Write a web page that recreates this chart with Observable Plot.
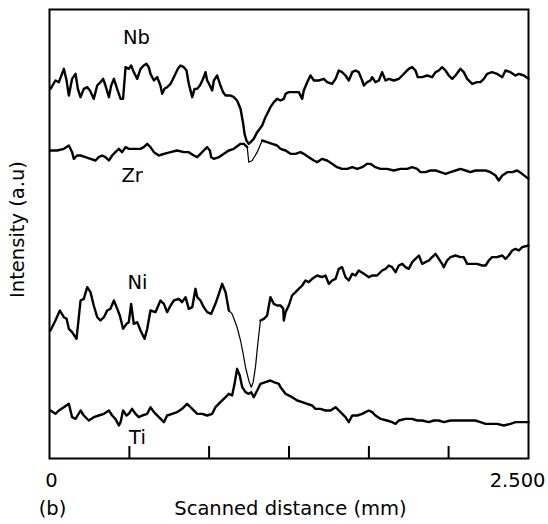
<!DOCTYPE html>
<html>
<head>
<meta charset="utf-8">
<script src="https://cdn.jsdelivr.net/npm/d3@7"></script>
<script src="https://cdn.jsdelivr.net/npm/@observablehq/plot@0.6"></script>
<style>
  html, body { margin: 0; padding: 0; background: #fff; }
  #chart { width: 548px; height: 524px; }
</style>
</head>
<body>
<div id="chart"></div>
<script>
// Scanned distance in mm, intensity in arbitrary units
const nb = [
  [0.005,1109],[0.031,1134],[0.049,1129],[0.075,1169],[0.089,1134],[0.101,1089],[0.118,1139],[0.136,1154],[0.148,1109],[0.162,1084],
  [0.179,1109],[0.197,1114],[0.211,1104],[0.231,1079],[0.249,1119],[0.266,1129],[0.280,1139],[0.292,1119],[0.310,1084],[0.322,1119],
  [0.336,1139],[0.353,1109],[0.371,1079],[0.384,1079],[0.397,1174],[0.414,1169],[0.426,1179],[0.440,1159],[0.458,1139],[0.475,1169],
  [0.492,1179],[0.506,1184],[0.518,1174],[0.527,1154],[0.545,1134],[0.562,1144],[0.579,1119],[0.588,1094],[0.600,1109],[0.614,1114],
  [0.632,1124],[0.649,1144],[0.670,1169],[0.684,1179],[0.701,1174],[0.715,1164],[0.727,1124],[0.745,1084],[0.757,1109],[0.771,1109],
  [0.785,1119],[0.802,1139],[0.814,1159],[0.823,1134],[0.837,1119],[0.849,1104],[0.858,1134],[0.875,1149],[0.892,1119],[0.906,1099],
  [0.919,1089],[0.945,1089],[0.962,1084],[0.979,1074],[0.997,1049],[1.011,1004],[1.018,974],[1.028,954],[1.040,944],[1.066,959],
  [1.084,979],[1.110,999],[1.127,1024],[1.153,1054],[1.171,1069],[1.188,1079],
  [1.206,1074],[1.223,1079],[1.232,1094],[1.249,1099],[1.275,1099],[1.301,1099],[1.319,1079],[1.327,1104],[1.345,1129],[1.362,1149],
  [1.380,1134],[1.406,1134],[1.432,1139],[1.449,1129],[1.475,1124],[1.493,1139],[1.510,1164],[1.527,1159],[1.545,1149],[1.562,1134],
  [1.580,1159],[1.597,1164],[1.614,1159],[1.632,1134],[1.641,1119],[1.658,1129],[1.675,1134],[1.684,1144],[1.701,1129],[1.719,1134],
  [1.736,1159],[1.754,1134],[1.771,1139],[1.797,1134],[1.823,1139],[1.841,1149],[1.858,1159],[1.875,1169],[1.893,1174],[1.910,1164],
  [1.922,1144],[1.945,1144],[1.971,1149],[1.997,1144],[2.015,1159],[2.032,1164],[2.049,1174],[2.067,1164],[2.084,1149],[2.102,1139],
  [2.119,1149],[2.145,1169],[2.162,1159],[2.180,1139],[2.206,1124],[2.232,1129],[2.249,1129],[2.267,1139],[2.284,1154],[2.310,1159],
  [2.336,1154],[2.363,1144],[2.380,1164],[2.406,1159],[2.432,1149],[2.450,1154],[2.476,1149],[2.500,1139]
];
const zr = [
  [0.005,924],[0.040,924],[0.075,929],[0.101,939],[0.118,919],[0.127,899],[0.144,909],[0.162,909],[0.188,904],[0.214,899],
  [0.240,894],[0.257,904],[0.275,909],[0.292,904],[0.310,894],[0.327,909],[0.344,919],[0.362,929],[0.379,919],[0.397,934],
  [0.414,929],[0.440,929],[0.458,929],[0.475,929],[0.492,934],[0.510,944],[0.527,934],[0.545,919],[0.571,909],[0.597,914],
  [0.632,919],[0.666,924],[0.701,919],[0.727,919],[0.753,909],[0.771,904],[0.788,914],[0.805,924],[0.823,934],[0.837,924],
  [0.844,904],[0.858,899],[0.884,904],[0.910,914],[0.936,924],[0.962,929],[0.997,944],[1.014,944],[1.032,934],[1.040,889],
  [1.058,894],[1.084,919],[1.110,954],[1.136,949],[1.162,944],[1.188,939],
  [1.206,929],[1.232,924],[1.258,914],[1.284,914],[1.310,919],[1.327,914],[1.353,904],[1.380,894],[1.397,889],[1.423,899],
  [1.449,894],[1.475,884],[1.501,874],[1.527,869],[1.554,869],[1.580,874],[1.606,869],[1.632,874],[1.658,884],[1.675,884],
  [1.701,874],[1.727,869],[1.762,869],[1.797,864],[1.832,869],[1.867,869],[1.893,874],[1.919,869],[1.936,859],[1.962,859],
  [1.988,864],[2.015,864],[2.041,859],[2.067,854],[2.093,859],[2.119,864],[2.145,869],[2.171,864],[2.197,859],[2.223,864],
  [2.249,864],[2.276,864],[2.302,859],[2.328,849],[2.345,834],[2.363,849],[2.389,859],[2.415,859],[2.441,864],[2.467,854],
  [2.500,839]
];
const ni = [
  [0.005,384],[0.031,414],[0.054,444],[0.075,424],[0.089,419],[0.101,389],[0.118,379],[0.141,359],[0.153,424],[0.162,474],
  [0.179,479],[0.197,514],[0.214,499],[0.231,459],[0.249,424],[0.266,414],[0.284,424],[0.301,444],[0.318,449],[0.336,474],
  [0.350,454],[0.367,429],[0.384,389],[0.402,404],[0.414,409],[0.426,464],[0.440,404],[0.458,409],[0.475,384],[0.496,359],
  [0.510,389],[0.527,444],[0.553,439],[0.579,474],[0.597,464],[0.614,439],[0.632,459],[0.649,474],[0.675,479],[0.692,469],
  [0.710,484],[0.727,449],[0.745,454],[0.762,509],[0.771,484],[0.788,474],[0.805,454],[0.823,439],[0.844,434],[0.866,464],
  [0.884,494],[0.901,524],[0.919,499],[0.936,444],[0.953,434],[0.979,394],[0.997,354],[1.011,314],[1.023,274],[1.040,234],
  [1.053,214],[1.063,229],[1.075,274],[1.087,344],[1.101,414],[1.119,419],[1.136,429],[1.153,484],[1.171,464],[1.188,459],
  [1.206,459],[1.220,449],[1.223,414],[1.232,439],[1.249,459],[1.266,489],[1.284,499],[1.301,509],[1.319,519],[1.336,534],
  [1.353,529],[1.371,539],[1.397,549],[1.423,544],[1.440,549],[1.458,524],[1.475,534],[1.493,539],[1.510,569],[1.527,574],
  [1.545,544],[1.562,534],[1.580,554],[1.597,549],[1.614,564],[1.641,554],[1.667,544],[1.684,549],[1.710,549],[1.736,564],
  [1.754,569],[1.771,579],[1.788,574],[1.806,559],[1.823,579],[1.841,584],[1.858,574],[1.875,569],[1.893,589],[1.910,599],
  [1.928,609],[1.945,584],[1.962,589],[1.980,594],[1.997,604],[2.015,614],[2.032,599],[2.049,584],[2.058,574],[2.075,594],
  [2.093,604],[2.119,609],[2.145,604],[2.162,604],[2.180,584],[2.206,584],[2.232,584],[2.258,579],[2.276,579],[2.293,594],
  [2.310,604],[2.336,604],[2.363,609],[2.380,599],[2.397,609],[2.415,624],[2.432,629],[2.450,624],[2.467,634],[2.500,639]
];
const ti = [
  [0.005,144],[0.031,134],[0.049,144],[0.075,154],[0.101,164],[0.118,124],[0.136,119],[0.162,144],[0.179,129],[0.205,114],
  [0.231,124],[0.257,129],[0.284,134],[0.310,144],[0.327,129],[0.344,119],[0.362,99],[0.371,109],[0.384,144],[0.402,129],
  [0.414,134],[0.431,149],[0.449,134],[0.466,124],[0.484,129],[0.510,134],[0.527,154],[0.545,139],[0.571,124],[0.597,109],
  [0.614,129],[0.640,134],[0.666,139],[0.692,149],[0.718,164],[0.745,149],[0.771,134],[0.797,134],[0.823,129],[0.849,134],
  [0.866,154],[0.892,169],[0.919,184],[0.936,194],[0.953,189],[0.966,224],[0.979,269],[0.993,249],[1.006,214],[1.023,199],
  [1.040,194],[1.053,199],[1.066,184],[1.084,204],[1.101,224],[1.127,229],[1.153,234],[1.171,229],[1.197,224],
  [1.206,214],[1.232,194],[1.266,184],[1.293,174],[1.319,169],[1.345,164],[1.371,159],[1.388,149],[1.414,149],[1.440,144],
  [1.467,144],[1.493,154],[1.519,139],[1.545,124],[1.562,109],[1.580,129],[1.606,129],[1.632,134],[1.649,139],[1.667,144],
  [1.684,139],[1.701,129],[1.727,119],[1.762,114],[1.788,109],[1.806,104],[1.823,114],[1.858,119],[1.893,119],[1.919,114],
  [1.945,114],[1.980,109],[2.006,114],[2.032,114],[2.058,109],[2.093,114],[2.128,114],[2.162,114],[2.197,114],[2.223,114],
  [2.249,109],[2.276,104],[2.302,104],[2.336,104],[2.371,99],[2.406,104],[2.432,109],[2.467,109],[2.500,109]
];
const seriesLabels = [
  {name: "Nb", x: 0.454, y: 1263},
  {name: "Zr", x: 0.431, y: 849},
  {name: "Ni", x: 0.459, y: 526},
  {name: "Ti", x: 0.459, y: 62}
];
const xTicks = [0.417, 0.833, 1.25, 1.667, 2.083];
const xTickLabels = [{v: 0, t: "0"}, {v: 2.5, t: "2.500"}];
const xTitle = "Scanned distance (mm)";
const yTitle = "Intensity (a.u)";
const panelTag = "(b)";

// style: stretches of a trace drawn with a finer pen (the steep dips)
const thinStretch = {ni: [0.936, 1.101], zr: [1.032, 1.110]};

const FS = 19.5;
const THICK = 2.4, THIN = 1.2;
const base = {x: d => d[0], y: d => d[1], stroke: "black", strokeLinejoin: "round", strokeLinecap: "round"};

function traceMarks(data, range) {
  if (!range) return [Plot.line(data, {...base, strokeWidth: THICK})];
  const [a, b] = range;
  return [
    Plot.line(data.filter(d => d[0] <= a), {...base, strokeWidth: THICK}),
    Plot.line(data.filter(d => d[0] >= a && d[0] <= b), {...base, strokeWidth: THIN}),
    Plot.line(data.filter(d => d[0] >= b), {...base, strokeWidth: THICK})
  ];
}

const chart = Plot.plot({
  width: 548,
  height: 524,
  marginLeft: 49,
  marginRight: 20,
  marginTop: 9,
  marginBottom: 66,
  x: {domain: [0, 2.5], axis: null},
  y: {domain: [0, 1347], axis: null},
  style: {fontFamily: "'DejaVu Sans', sans-serif", fontSize: FS + "px", background: "white", color: "black"},
  marks: [
    ...traceMarks(nb),
    ...traceMarks(zr, thinStretch.zr),
    ...traceMarks(ni, thinStretch.ni),
    ...traceMarks(ti),
    Plot.text(seriesLabels, {x: "x", y: "y", text: "name", fontSize: FS, fill: "black", lineAnchor: "middle"}),
    Plot.ruleX(xTicks, {x: d => d, stroke: "black", strokeWidth: 2, insetTop: 437}),
    Plot.frame({stroke: "black", strokeWidth: 2}),
    Plot.text(xTickLabels.slice(0, 1), {x: "v", text: "t", frameAnchor: "bottom", dy: 28, dx: 2, textAnchor: "middle", lineAnchor: "bottom", fontSize: FS, fill: "black"}),
    Plot.text(xTickLabels.slice(1), {x: "v", text: "t", frameAnchor: "bottom", dy: 28, dx: 17, textAnchor: "end", lineAnchor: "bottom", fontSize: FS, fill: "black"}),
    Plot.text([xTitle], {frameAnchor: "bottom", dy: 56, dx: 1.5, textAnchor: "middle", lineAnchor: "bottom", fontSize: FS, fill: "black"}),
    Plot.text([panelTag], {frameAnchor: "bottom-left", dy: 56, dx: 3, textAnchor: "middle", lineAnchor: "bottom", fontSize: FS, fill: "black"}),
    Plot.text([yTitle], {frameAnchor: "left", dx: -32, dy: -4.5, rotate: -90, textAnchor: "middle", lineAnchor: "middle", fontSize: FS, fill: "black"})
  ]
});
document.getElementById("chart").appendChild(chart);
</script>
</body>
</html>
